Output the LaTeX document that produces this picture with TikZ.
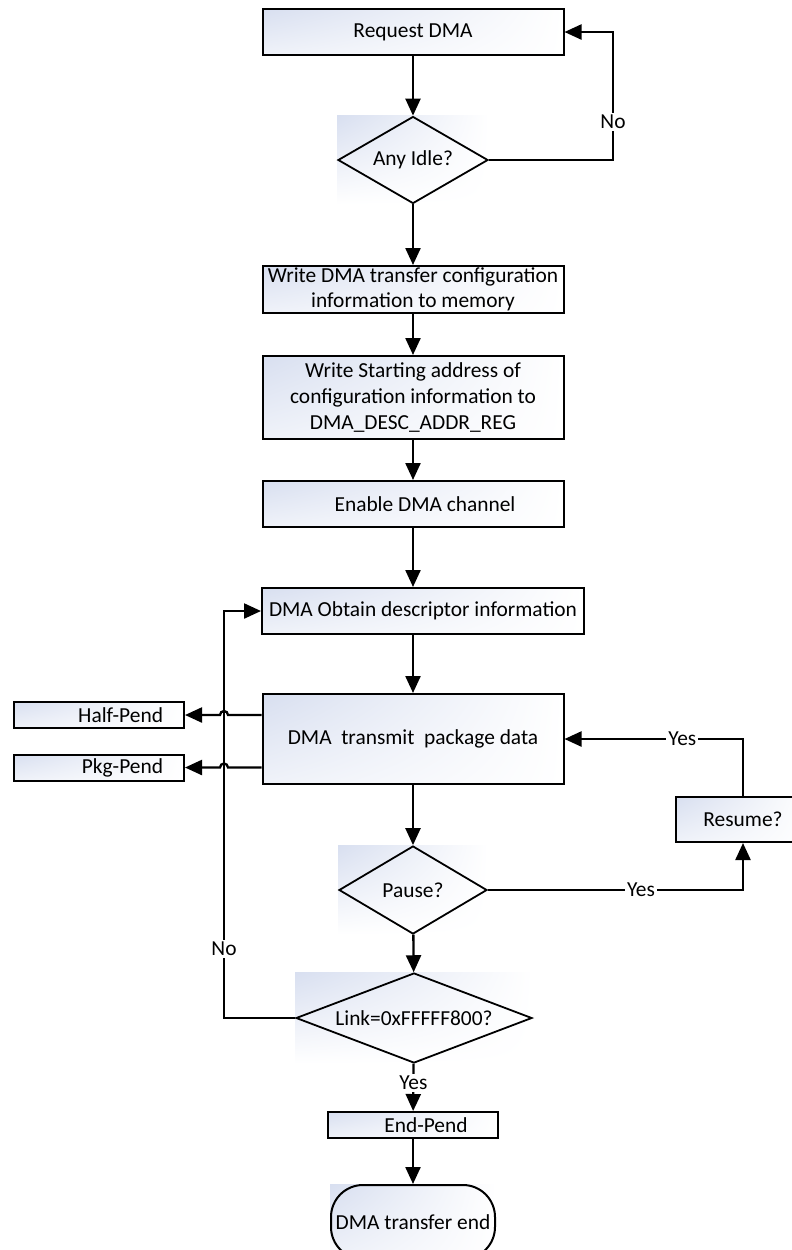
\documentclass[tikz,border=0pt]{standalone}
\usepackage{fontspec}
\setmainfont{Carlito}
\usetikzlibrary{shapes.geometric,arrows.meta,calc,backgrounds,shadings}
\definecolor{boxblue}{RGB}{216,223,240}
\tikzset{
  box/.style={draw, line width=1pt, inner sep=0pt, align=center,
    upper left=boxblue, lower left=boxblue!40!white, upper right=white, lower right=white},
  pend/.style={box, minimum width=85pt, minimum height=13pt, text width=64pt,
    align=right, inner xsep=10.5pt},
  decide/.style={draw, diamond, line width=0.9pt, inner sep=0pt},
  arr/.style={-{Triangle[length=8.5pt,width=7.5pt]}, line width=1.15pt},
  lbl/.style={fill=white, inner sep=1pt}
}

\begin{document}
\begin{tikzpicture}[x=0.5pt, y=-0.5pt, font=\fontsize{10.7pt}{12.8pt}\selectfont]
  \useasboundingbox (0,0) rectangle (792,1250);
  % main column
  \node[box, minimum width=150.5pt, minimum height=23pt] (req) at (413,32) {Request DMA};
  \node[decide, aspect=1.7, minimum width=75pt, minimum height=43.5pt] (idle) at (413,160) {Any Idle?};
  \node[box, minimum width=150.5pt, minimum height=23.5pt] (cfg) at (413,289.5)
    {Write DMA transfer configuration\\information to memory};
  \node[box, minimum width=150.5pt, minimum height=41.5pt] (addr) at (413,397.5)
    {Write Starting address of\\configuration information to\\DMA\_DESC\_ADDR\_REG};
  \node[box, minimum width=150.5pt, minimum height=23pt] (enable) at (413,504) {\hspace*{12pt}Enable DMA channel};
  \node[box, minimum width=161pt, minimum height=23pt] (desc) at (423,611) {DMA Obtain descriptor information};
  \node[box, minimum width=150.5pt, minimum height=45pt] (xmit) at (413,739) {DMA\ \ transmit\ \ package data};
  \node[decide, aspect=1.7, minimum width=74pt, minimum height=44pt] (pause) at (413,890) {Pause?};
  \node[decide, aspect=2.6, minimum width=118pt, minimum height=45pt] (link) at (414,1018) {Link=0xFFFFF800?};
  \node[box, minimum width=85pt, minimum height=13pt] (endp) at (413,1125) {\hspace*{13pt}End-Pend};
  \node[box, rounded corners=16pt, minimum width=82pt, minimum height=37pt] (term) at (413,1222) {DMA transfer end};
  % side boxes
  \node[pend] (half) at (99,715) {Half-Pend};
  \node[pend] (pkg) at (99,767.5) {Pkg-Pend};
  \node[box, minimum width=67pt, minimum height=22.5pt] (resume) at (743,819.5) {Resume?};

  % shaded frames behind the decisions
  \begin{scope}[on background layer]
    \foreach \d in {idle,pause,link,term}
      \shade[upper left=boxblue, lower left=white, upper right=white, lower right=white]
        (\d.west |- \d.north) rectangle (\d.east |- \d.south);
  \end{scope}

  % straight flow
  \draw[arr] (req) -- (idle);
  \draw[arr] (idle) -- (cfg);
  \draw[arr] (cfg) -- (addr);
  \draw[arr] (addr) -- (enable);
  \draw[arr] (enable.south) -- (enable.south |- desc.north);
  \draw[arr] (xmit.north |- desc.south) -- (xmit.north);
  \draw[arr] (xmit) -- (pause);
  \draw[arr] (pause) -- (link);
  \draw[arr] (link) -- node[lbl, pos=0.4] {Yes} (endp);
  \draw[arr] (endp) -- (term);

  % loops
  \coordinate (idleturn) at (613,32);
  \draw[arr] (idle.east) -| node[lbl, pos=0.65] {No} (idleturn) -- (req.east);
  \draw[arr] (pause.east) -| node[lbl, pos=0.3] {Yes} (resume.south);
  \draw[arr] (resume.north) |- node[lbl, pos=0.67] {Yes} (xmit.east);
  \coordinate (linkturn) at (224,611);
  \draw[arr] (link.west) -| node[lbl, pos=0.585] {No} (linkturn) -- (desc.west);

  % pend outputs hop over the return line
  \draw[arr] (xmit.west |- half.east) -- ($(linkturn |- half.east)+(4,0)$)
    arc[start angle=0, end angle=180, radius=2pt] -- (half.east);
  \draw[arr] (xmit.west |- pkg.east) -- ($(linkturn |- pkg.east)+(4,0)$)
    arc[start angle=0, end angle=180, radius=2pt] -- (pkg.east);
\end{tikzpicture}
\end{document}
